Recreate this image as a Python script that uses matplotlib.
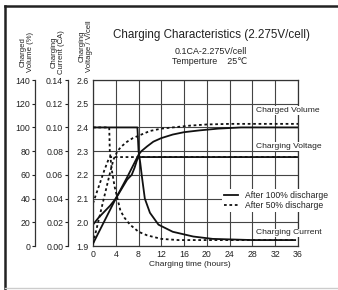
import matplotlib
matplotlib.use("Agg")
import matplotlib.pyplot as plt
from matplotlib.lines import Line2D

plt.rcParams['font.family'] = ['Liberation Sans', 'DejaVu Sans']

# hours on the x axis
hour_ticks = list(range(0, 37, 4))
voltage_ticks = [1.9, 2.0, 2.1, 2.2, 2.3, 2.4, 2.5, 2.6]
current_ticks = [0.00, 0.02, 0.04, 0.06, 0.08, 0.10, 0.12, 0.14]
volume_ticks = [0, 20, 40, 60, 80, 100, 120, 140]

# after 100% discharge (solid)
volume_100_t = [0, 2, 4, 6, 8, 8.5, 9.5, 10.6, 12, 14, 16, 18.7, 22, 26, 36]
volume_100 = [2, 21, 40, 58, 77, 80, 84, 88, 91, 94, 96, 97.5, 99, 100, 100]
voltage_100_t = [0, 1, 2, 3, 4, 5, 6, 6.8, 7.3, 7.7, 8, 36]
voltage_100 = [1.99, 2.02, 2.045, 2.07, 2.10, 2.14, 2.18, 2.20, 2.23, 2.26, 2.275, 2.275]
current_100_t = [0, 7.8, 8.0, 8.3, 8.55, 9.1, 10, 11.5, 14, 17.6, 21, 28, 35.5]
current_100 = [0.10, 0.10, 0.08, 0.07, 0.06, 0.04, 0.028, 0.018, 0.012, 0.008, 0.006, 0.005, 0.005]

# after 50% discharge (dashed)
volume_50_t = [0, 1, 2, 3, 3.6, 4.3, 5, 6, 7, 8, 10, 12, 14, 17, 20, 24, 36]
volume_50 = [2, 22, 42, 62, 73, 80, 84, 88, 91, 93, 97, 99, 100, 101.5, 102.5, 103, 103]
voltage_50_t = [0, 1, 2, 2.8, 3, 36]
voltage_50 = [2.08, 2.15, 2.22, 2.27, 2.275, 2.275]
current_50_t = [0, 2.85, 2.95, 3.3, 3.8, 4.3, 4.8, 5.5, 6.5, 8, 9.5, 12, 15, 35.5]
current_50 = [0.10, 0.10, 0.08, 0.064, 0.05, 0.04, 0.03, 0.024, 0.018, 0.012, 0.009, 0.006, 0.005, 0.005]

W, H = 338, 290
fig = plt.figure(figsize=(W / 100, H / 100), dpi=100)
txt = '#222222'

ax = fig.add_axes([93 / W, 44 / H, 205 / W, 166 / H])
ax.set_xlim(0, 36)
ax.set_ylim(1.9, 2.6)
ax.set_xticks(hour_ticks)
ax.set_yticks(voltage_ticks)
ax.set_yticklabels(['%.1f' % v for v in voltage_ticks])
ax.grid(True, color='#444444', lw=0.8)
ax.tick_params(length=0, labelsize=6.3, colors=txt, pad=3)
for s in ax.spines.values():
    s.set_linewidth(0.9)
    s.set_color('#333333')

def side_axis(offset, lim, ticks, fmt):
    a = ax.twinx()
    a.set_ylim(*lim)
    a.yaxis.set_ticks_position('left')
    a.yaxis.set_label_position('left')
    for name in ['right', 'top', 'bottom']:
        a.spines[name].set_visible(False)
    a.spines['left'].set_visible(True)
    a.spines['left'].set_position(('outward', offset))
    a.spines['left'].set_linewidth(0.9)
    a.spines['left'].set_color('#333333')
    a.set_yticks(ticks)
    a.set_yticklabels([fmt % v for v in ticks])
    a.tick_params(direction='out', length=2, width=0.8, pad=1.5, labelsize=6.3, colors=txt)
    return a

axc = side_axis(18, (0, 0.14), current_ticks, '%.2f')
axv = side_axis(41.8, (0, 140), volume_ticks, '%d')

solid = dict(color='#111111', lw=1.3)
dash = dict(color='#111111', lw=1.3, ls=(0, (1.5, 1.5)))

ax.plot(voltage_50_t, voltage_50, **dash)
ax.plot(voltage_100_t, voltage_100, **solid)
axc.plot(current_50_t, current_50, **dash)
axc.plot(current_100_t, current_100, **solid)
axv.plot(volume_50_t, volume_50, **dash)
axv.plot(volume_100_t, volume_100, **solid)

box = dict(facecolor='white', edgecolor='none', pad=0.6)
axv.text(34.2, 2.47, 'Charged Volume', transform=ax.transData, ha='center', va='center',
         fontsize=6.1, color=txt, bbox=box)
axv.text(34.3, 2.32, 'Charging Voltage', transform=ax.transData, ha='center', va='center',
         fontsize=6.1, color=txt, bbox=box)
axv.text(34.4, 1.955, 'Charging Current', transform=ax.transData, ha='center', va='center',
         fontsize=6.1, color=txt, bbox=box)

handles = [Line2D([], [], **solid), Line2D([], [], **dash)]
leg = axv.legend(handles, ['After 100% discharge', 'After 50% discharge'],
                 loc='upper left', bbox_to_anchor=(222 / W, 1 - 189 / H),
                 bbox_transform=fig.transFigure, fontsize=6.2, frameon=True,
                 handlelength=1.6, handletextpad=0.9, labelspacing=0.15,
                 borderpad=0.2, borderaxespad=0, fancybox=False)
leg.get_frame().set_edgecolor('none')
leg.get_frame().set_facecolor('white')
leg.get_frame().set_alpha(1)
for t in leg.get_texts():
    t.set_color(txt)

ax.set_xlabel('Charging time (hours)', fontsize=6, color=txt, labelpad=1)
ax.xaxis.set_label_coords(0.47, -0.09)

fig.text(211 / W, 1 - 35 / H, 'Charging Characteristics (2.275V/cell)', ha='center',
         va='center', fontsize=8.4, color=txt)
fig.text(211 / W, 1 - 52 / H, '0.1CA-2.275V/cell', ha='center', va='center',
         fontsize=6.4, color=txt)
fig.text(210 / W, 1 - 62 / H, 'Temperture    25\u2103', ha='center', va='center',
         fontsize=6.4, color=txt)

fig.text(27 / W, 1 - 52 / H, 'Charged\nVolume (%)', rotation=90, ha='center', va='center',
         fontsize=5.6, color=txt, linespacing=1.0)
fig.text(58 / W, 1 - 52 / H, 'Charging\nCurrent (CA)', rotation=90, ha='center', va='center',
         fontsize=5.6, color=txt, linespacing=1.0)
fig.text(86 / W, 1 - 46 / H, 'Charging\nVoltage / V/cell', rotation=90, ha='center', va='center',
         fontsize=5.6, color=txt, linespacing=1.0)

# outer frame
fig.add_artist(Line2D([5 / W, 1], [1 - 6 / H, 1 - 6 / H], color='#222222', lw=1.8))
fig.add_artist(Line2D([5 / W, 5 / W], [0, 1 - 6 / H], color='#222222', lw=1.8))
fig.add_artist(Line2D([5 / W, 1], [2 / H, 2 / H], color='#cccccc', lw=1))

fig.savefig('out.png', dpi=100)
